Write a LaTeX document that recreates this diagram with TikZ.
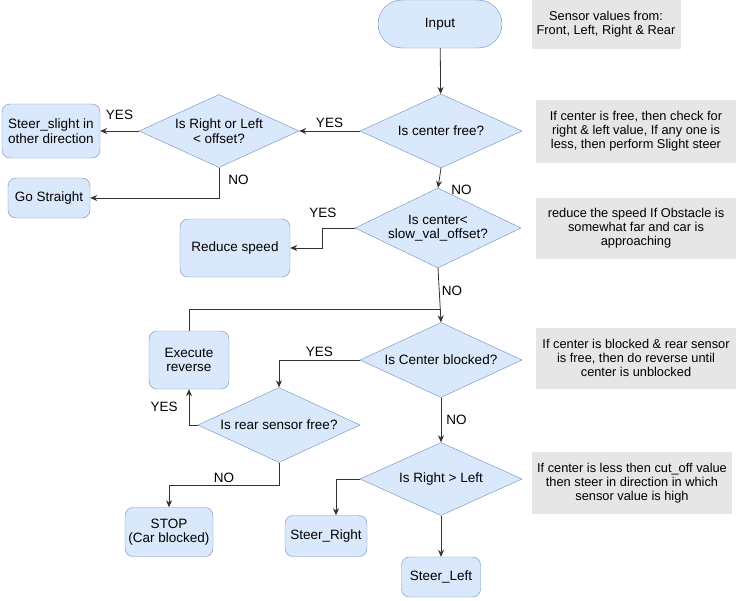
\documentclass[tikz,border=0pt]{standalone}
\usepackage{fontspec}
\setmainfont{Liberation Sans}
\usetikzlibrary{shapes.geometric,arrows.meta}

\definecolor{boxblue}{HTML}{DAE8FC}
\definecolor{boxline}{HTML}{6C8EBF}
\definecolor{notegray}{HTML}{E6E6E6}
\definecolor{linegray}{HTML}{333333}

\tikzset{
    txt/.style={font=\fontsize{13.5}{14.5}\selectfont, align=center, inner sep=1pt},
    procbox/.style={txt, draw=boxline, fill=boxblue, rounded corners=8pt},
    decision/.style={txt, diamond, aspect=2.15, draw=boxline, fill=boxblue, inner sep=0pt},
    notebox/.style={txt, font=\fontsize{12.8}{14.3}\selectfont, fill=notegray, inner sep=0pt},
    flow/.style={->, >={Stealth[length=7pt,width=6pt]}, draw=linegray, thick},
}

\begin{document}
\begin{tikzpicture}[x=1pt, y=-1pt]
            \useasboundingbox (0,0) rectangle (738,600);

            % Start
            \node[procbox, rounded corners=24pt, minimum width=124pt, minimum height=48pt] (input) at (440,24) {Input};

            % Decisions
            \node[decision, minimum width=162pt, minimum height=74pt] (chkfree) at (441,131) {Is center free?};
            \node[decision, minimum width=160pt, minimum height=73pt] (chkside) at (219,131) {Is Right or Left\\ \textless{} offset?};
            \node[decision, minimum width=166pt, minimum height=80pt] (chkslow) at (438,228) {Is center\textless\\ slow\_val\_offset?};
            \node[decision, minimum width=162pt, minimum height=75pt] (chkblock) at (441,360) {Is Center blocked?};
            \node[decision, minimum width=162pt, minimum height=75pt] (chkrear) at (279,425) {Is rear sensor free?};
            \node[decision, minimum width=162pt, minimum height=73pt] (chkturn) at (441,479) {Is Right \textgreater{} Left};

            % Actions
            \node[procbox, minimum width=98pt, minimum height=54pt] (slight) at (51,131) {Steer\_slight in\\ other direction};
            \node[procbox, minimum width=82pt, minimum height=40pt] (straight) at (49,198) {Go Straight};
            \node[procbox, minimum width=110pt, minimum height=58pt] (slow) at (235,248) {Reduce speed};
            \node[procbox, minimum width=80pt, minimum height=58pt] (reverse) at (189,360) {Execute\\ reverse};
            \node[procbox, minimum width=88pt, minimum height=49pt] (stop) at (169,532) {STOP\\ (Car blocked)};
            \node[procbox, minimum width=82pt, minimum height=41pt] (steerR) at (326,536) {Steer\_Right};
            \node[procbox, minimum width=79pt, minimum height=40pt] (steerL) at (441,577) {Steer\_Left};

            % Notes
            \node[notebox, minimum width=149pt, minimum height=49pt] (note1) at (606,24) {Sensor values from:\\ Front, Left, Right \& Rear};
            \node[notebox, minimum width=200pt, minimum height=63pt] (note2) at (636,131) {If center is free, then check for\\ right \& left value, If any one is\\ less, then perform Slight steer};
            \node[notebox, minimum width=200pt, minimum height=61pt] (note3) at (636,228) {reduce the speed If Obstacle is\\ somewhat far and car is\\ approaching};
            \node[notebox, minimum width=200pt, minimum height=61pt] (note4) at (636,358) {If center is blocked \& rear sensor\\ is free, then do reverse until\\ center is unblocked};
            \node[notebox, minimum width=200pt, minimum height=62pt] (note5) at (632,483) {If center is less then cut\_off value\\ then steer in direction in which\\ sensor value is high};

            % Merge point above the blocked check
            \coordinate (merge) at (441,309);

            % Connectors
            \draw[flow] (input) -- (chkfree);
            \draw[flow] (chkfree.west) -- (chkside.east) node[midway, above=2pt, txt] {YES};
            \draw[flow] (chkside.west) -- (slight.east) node[midway, above=10pt, txt] {YES};
            \draw[flow] (chkside.south) |- (straight.east) node[pos=0.2, right=8pt, txt] {NO};
            \draw[flow] (chkfree.south) -- (chkslow.north) node[pos=1, anchor=west, xshift=12pt, yshift=-2pt, txt] {NO};
            \draw[flow] (chkslow.west) -- ++(-32,0) node[above=9pt, txt] {YES} |- (slow.east);
            \draw[flow] (chkslow.south) -- (chkblock.north) node[midway, right=1pt, yshift=4pt, txt] {NO};
            \draw[draw=linegray, thick] (reverse.north) |- (merge);
            \draw[flow] (chkblock.west) -| (chkrear.north) node[pos=0.25, above=2pt, txt] {YES};
            \draw[flow] (chkblock.south) -- (chkturn.north) node[midway, right=4pt, txt] {NO};
            \draw[flow] (chkrear.west) -| (reverse.south) node[pos=0.75, left=10pt, txt] {YES};
            \draw[flow] (chkrear.south) -- ++(0,23) -| (stop.north) node[pos=0.25, above=2pt, txt] {NO};
            \draw[flow] (chkturn.west) -| ([xshift=10pt]steerR.north);
            \draw[flow] (chkturn.south) -- (steerL.north);
        \end{tikzpicture}
\end{document}
